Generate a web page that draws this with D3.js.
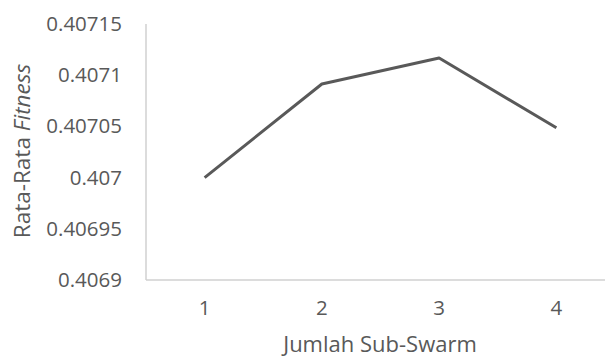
<!DOCTYPE html>
<html><head><meta charset="utf-8">
<script src="https://cdn.jsdelivr.net/npm/d3@7"></script>
<style>html,body{margin:0;padding:0;background:#fff;overflow:hidden}</style>
</head><body>
<svg id="c" width="605" height="359"></svg>
<script>
const categories = ["1", "2", "3", "4"];
const values = [0.407000, 0.4070914, 0.4071168, 0.4070487];
const yTicks = [0.4069, 0.40695, 0.407, 0.40705, 0.4071, 0.40715];
const yTickLabels = ["0.4069", "0.40695", "0.407", "0.40705", "0.4071", "0.40715"];
const xTitle = "Jumlah Sub-Swarm";
const yTitle = ["Rata-Rata ", "Fitness"];

(function () {
const svg = d3.select("#c");
const font = "'Open Sans', sans-serif";
const textColor = "#595959";
const pL = 146, pR = 615, pT = 24, pB = 280;

const x = d3.scaleBand().domain(categories).range([pL, pR]);
const y = d3.scaleLinear().domain([0.4069, 0.40715]).range([pB, pT]);

svg.append("line").attr("x1", pL).attr("x2", pR).attr("y1", pB).attr("y2", pB)
  .attr("stroke", "#d0d0d0").attr("stroke-width", 1.5);
svg.append("line").attr("x1", pL).attr("x2", pL).attr("y1", pT).attr("y2", pB)
  .attr("stroke", "#d0d0d0").attr("stroke-width", 1.5);

const yAxis = d3.axisLeft(y).tickValues(yTicks).tickSize(0).tickPadding(0)
  .tickFormat((d, i) => yTickLabels[i]);
const gy = svg.append("g").attr("transform", `translate(${122},0)`).call(yAxis);
gy.select(".domain").remove();
gy.selectAll("text").attr("font-family", font).attr("font-size", 20.5).attr("fill", textColor);

const xAxis = d3.axisBottom(x).tickSize(0).tickPadding(0);
const gx = svg.append("g").attr("transform", `translate(0,${300})`).call(xAxis);
gx.select(".domain").remove();
gx.selectAll("text").attr("font-family", font).attr("font-size", 20.5).attr("fill", textColor);

const line = d3.line().x((d, i) => x(categories[i]) + x.bandwidth() / 2).y(d => y(d));
svg.append("path").datum(values).attr("d", line).attr("fill", "none")
  .attr("stroke", "#595959").attr("stroke-width", 3).attr("stroke-linejoin", "round");

svg.append("text").attr("x", 380).attr("y", 352).attr("text-anchor", "middle")
  .attr("font-family", font).attr("font-size", 22).attr("fill", textColor).text(xTitle);

const yt = svg.append("text").attr("transform", "translate(30,151) rotate(-90)")
  .attr("text-anchor", "middle").attr("font-family", font).attr("font-size", 22.5).attr("fill", textColor);
yt.append("tspan").text(yTitle[0]);
yt.append("tspan").attr("font-style", "italic").text(yTitle[1]);
})();
</script>
</body></html>
